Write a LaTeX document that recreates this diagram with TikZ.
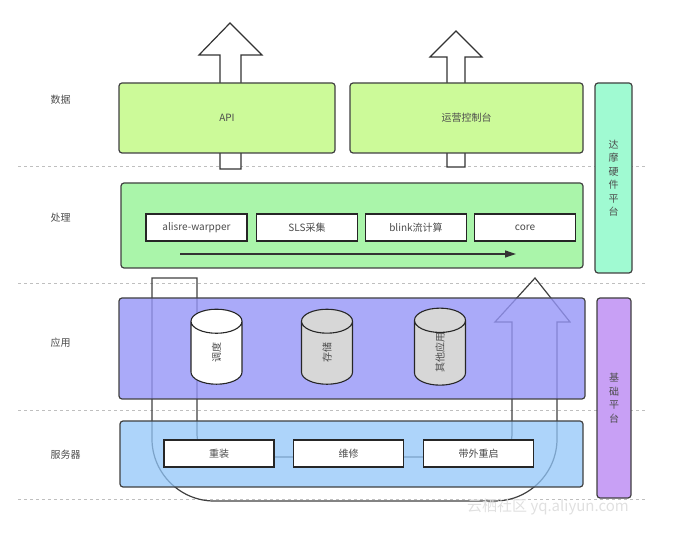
\documentclass[tikz,border=0pt]{standalone}
\usepackage{fontspec}
\newfontfamily\cjk{Noto Sans CJK SC}
\usetikzlibrary{shapes.geometric,arrows.meta}

\definecolor{datos}{RGB}{204,250,153}
\definecolor{proceso}{RGB}{170,245,170}
\definecolor{aplic}{RGB}{149,149,248}
\definecolor{servidor}{RGB}{145,197,248}
\definecolor{damo}{RGB}{160,250,210}
\definecolor{basico}{RGB}{200,160,245}
\definecolor{cilgris}{RGB}{215,215,215}

\begin{document}
\begin{tikzpicture}[x=1pt,y=-1pt,
	every node/.style={font=\cjk\fontsize{10}{13.5}\selectfont,text=black!70},
	capa/.style={draw=black!75,line width=1.2pt,rounded corners=3pt,inner sep=0pt},
	caja/.style={draw=black!85,line width=1.2pt,fill=white,minimum height=27,inner sep=0pt},
	cilindro/.style={cylinder,draw=black!85,line width=1.1pt,rotate=90,minimum width=51,minimum height=75,aspect=2.6,inner sep=0pt,font=\cjk\fontsize{10}{11}\selectfont},
	flechota/.style={draw=black!80,line width=1.2pt,fill=white}]
\useasboundingbox (0,0) rectangle (683,534);

%% Separadores %%
\foreach \y in {166,283,410,499}
	\draw[black!25,dashed,line width=0.8pt] (18,\y) -- (645,\y);

%% Flecha en U %%
\draw[black!75,line width=1.2pt]
	(152,278) -- (152,439) .. controls (152,473) and (180,501) .. (214,501)
	-- (495,501) .. controls (529,501) and (557,473) .. (557,439)
	-- (557,322) -- ++(13,0) -- (535,278) -- (495,322) -- (512,322)
	-- (512,435) .. controls (512,447) and (502,457) .. (490,457)
	-- (219,457) .. controls (207,457) and (197,447) .. (197,435)
	-- (197,278) -- cycle;

%% Datos %%
\draw[flechota] (220,169) -- ++(0,-114) -- ++(-21,0) -- ++(31,-32) -- ++(32,32) -- ++(-21,0) -- ++(0,114) -- cycle;
\draw[flechota] (447,167) -- ++(0,-110) -- ++(-17,0) -- ++(26,-26) -- ++(26,26) -- ++(-17,0) -- ++(0,110) -- cycle;
\node[capa,fill=datos,minimum width=216,minimum height=70] (api) at (227,118) {API};
\node[capa,fill=datos,minimum width=233,minimum height=70] (consola) at (466.5,118) {运营控制台};

%% Proceso %%
\node[capa,fill=proceso,minimum width=462,minimum height=85] (proceso) at (352,225.5) {};
\foreach \x/\t [count=\i] in {196.5/alisre-warpper,307/SLS采集,416/blink流计算,525/core}
	\node[caja,minimum width=101] (p\i) at (\x,227.5) {\t};
\coordinate (flujoA) at (180,254);
\coordinate (flujoB) at (516,254);
\draw[-{Triangle[length=11pt,width=7pt]},line width=1.2pt,black!80] (flujoA) -- (flujoB);

%% Aplicacion %%
\node[capa,fill=aplic,fill opacity=0.8,minimum width=466,minimum height=101] (aplicacion) at (352,348.5) {};
\foreach \x/\t/\c [count=\i] in {216.5/调度/white,327/存储/cilgris,440/其他应用/cilgris}
	\node[cilindro,fill=\c] (c\i) at (\x,353) {\t};

%% Servidor %%
\node[capa,fill=servidor,fill opacity=0.75,minimum width=463,minimum height=66] (servidor) at (351.5,454) {};
\foreach \x/\t [count=\i] in {219/重装,348.5/维修,478.5/带外重启}
	\node[caja,minimum width=110] (s\i) at (\x,453.5) {\t};

%% Plataformas %%
\node[capa,fill=damo,minimum width=37,minimum height=190,align=center] (damo) at (613.5,178) {达\\摩\\硬\\件\\平\\台};
\node[capa,fill=basico,minimum width=34,minimum height=200,align=center] (basico) at (614,398) {基\\础\\平\\台};

%% Etiquetas %%
\foreach \y/\t [count=\i] in {100/数据,218/处理,343/应用,455/服务器}
	\node[anchor=west] (et\i) at (47,\y) {\t};
\node[text=black!12,font=\cjk\fontsize{15}{16}\selectfont] (marca) at (548,507) {云栖社区 yq.aliyun.com};
\end{tikzpicture}
\end{document}
